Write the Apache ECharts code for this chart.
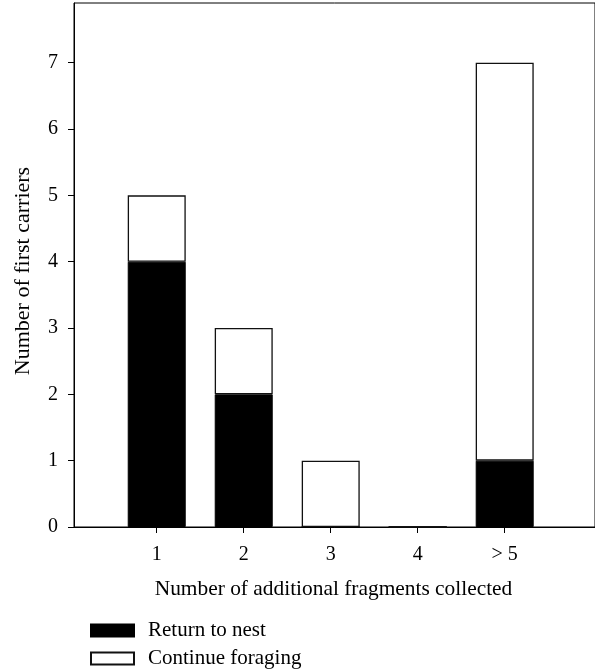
<!DOCTYPE html>
<html>
<head>
<meta charset="utf-8">
<script src="https://cdn.jsdelivr.net/npm/echarts@6/dist/echarts.min.js"></script>
<style>
  html, body { margin: 0; padding: 0; background: #fff; }
  #chart { width: 595px; height: 669px; }
</style>
</head>
<body>
<div id="chart"></div>
<script>
// Fragment groups on the x axis (numeric positions) and their tick labels
const groupPositions = [1, 2, 3, 4, 5];
const groupLabels = ['1', '2', '3', '4', '> 5'];

// Counts of first carriers per behaviour
const returnToNest = [4, 2, 0, 0, 1];
const continueForaging = [1, 1, 1, 0, 6];

const yTicks = [0, 1, 2, 3, 4, 5, 6, 7];

const serif = '"Liberation Serif", "DejaVu Serif", serif';

// Rows are [count, position] so that the count is the stacked dimension
const toRows = (vals) => groupPositions.map((x, i) => [vals[i], x]);

const chart = echarts.init(document.getElementById('chart'), null, { renderer: 'canvas' });

chart.setOption({
  animation: false,
  backgroundColor: '#fff',
  textStyle: { fontFamily: serif, color: '#000' },
  grid: {
    left: 74, right: -6, top: 3, bottom: 142,
    show: true, borderColor: '#000', borderWidth: 1, backgroundColor: 'transparent'
  },
  legend: {
    orient: 'vertical',
    left: 90, top: 620,
    padding: 0,
    itemWidth: 43, itemHeight: 12, itemGap: 7,
    icon: 'rect',
    textStyle: { fontFamily: serif, fontSize: 21, lineHeight: 20, color: '#000', padding: [0, 0, 0, 9] },
    data: ['Return to nest', 'Continue foraging']
  },
  xAxis: {
    type: 'value',
    min: 0.049, max: 6.038,
    splitLine: { show: false },
    axisLine: { show: true, lineStyle: { color: '#000', width: 1 } },
    axisTick: { show: true, length: 6, lineStyle: { color: '#000' }, customValues: groupPositions },
    axisLabel: {
      fontFamily: serif, fontSize: 20, color: '#000', margin: 18,
      customValues: groupPositions,
      formatter: (v) => groupLabels[groupPositions.indexOf(v)]
    },
    name: 'Number of additional fragments collected',
    nameLocation: 'middle',
    nameGap: 52,
    nameTextStyle: { fontFamily: serif, fontSize: 21.4, color: '#000', padding: [0, 2, 0, 0] }
  },
  yAxis: {
    type: 'value',
    min: 0, max: 7.9,
    splitLine: { show: false },
    axisLine: { show: true, lineStyle: { color: '#000', width: 1 } },
    axisTick: { show: true, length: 6, lineStyle: { color: '#000' }, customValues: yTicks },
    axisLabel: {
      fontFamily: serif, fontSize: 20, color: '#000', margin: 16,
      customValues: yTicks
    },
    name: 'Number of first carriers',
    nameLocation: 'middle',
    nameGap: 40,
    nameTextStyle: { fontFamily: serif, fontSize: 22, color: '#000', padding: [0, 12, 0, 0] }
  },
  series: [
    {
      name: 'Return to nest',
      type: 'bar',
      stack: 'carriers',
      barWidth: 58,
      encode: { x: 1, y: 0 },
      itemStyle: { color: '#000', borderColor: '#000', borderWidth: 1 },
      data: toRows(returnToNest)
    },
    {
      name: 'Continue foraging',
      type: 'bar',
      stack: 'carriers',
      barWidth: 58,
      encode: { x: 1, y: 0 },
      itemStyle: { color: '#fff', borderColor: '#111', borderWidth: 1.3 },
      data: toRows(continueForaging)
    }
  ]
});
</script>
</body>
</html>
